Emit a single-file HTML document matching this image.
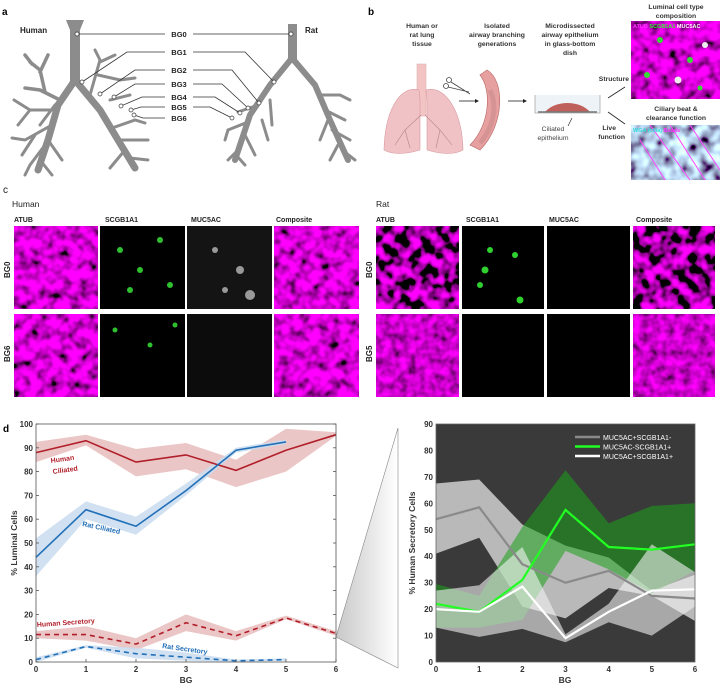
<!DOCTYPE html>
<html><head><meta charset="utf-8">
<style>
html,body{margin:0;padding:0;background:#fff;}
body{width:720px;height:686px;position:relative;overflow:hidden;font-family:"Liberation Sans",Arial,sans-serif;}
svg text{font-family:"Liberation Sans",Arial,sans-serif;}
</style></head>
<body>
<svg id="fig" width="720" height="686" viewBox="0 0 720 686" xmlns="http://www.w3.org/2000/svg">
<defs>
  <filter id="magTex" x="0" y="0" width="100%" height="100%">
    <feTurbulence type="fractalNoise" baseFrequency="0.09" numOctaves="2" seed="3"/>
    <feColorMatrix type="matrix" values="0 0 0 3.5 -1.4  0 0 0 0 0  0 0 0 3.5 -1.4  0 0 0 0 1"/>
  </filter>
  <filter id="magTex2" x="0" y="0" width="100%" height="100%">
    <feTurbulence type="fractalNoise" baseFrequency="0.12" numOctaves="2" seed="8"/>
    <feColorMatrix type="matrix" values="0 0 0 1.6 -0.2  0 0 0 0 0  0 0 0 1.6 -0.2  0 0 0 0 1"/>
  </filter>
  <filter id="magTex3" x="0" y="0" width="100%" height="100%">
    <feTurbulence type="fractalNoise" baseFrequency="0.1" numOctaves="2" seed="12"/>
    <feColorMatrix type="matrix" values="0 0 0 2.4 -0.5  0 0 0 0 0  0 0 0 2.4 -0.5  0 0 0 0 1"/>
  </filter>
  <filter id="cyanTex" x="0" y="0" width="100%" height="100%">
    <feTurbulence type="fractalNoise" baseFrequency="0.08" numOctaves="2" seed="5"/>
    <feColorMatrix type="matrix" values="0 0 0 1.5 -0.3  0 0 0 2.4 -0.6  0 0 0 2.6 -0.5  0 0 0 0 1"/>
  </filter>
  <linearGradient id="wedge" x1="0" x2="1" y1="0" y2="0">
    <stop offset="0" stop-color="#c8c8c8"/><stop offset="1" stop-color="#ffffff"/>
  </linearGradient>
</defs>

<!-- Panel a -->
<g>
<text x="2" y="15" font-size="10" font-weight="bold">a</text>
<text x="20" y="33" font-size="8" font-weight="bold" fill="#222">Human</text>
<text x="305" y="33" font-size="8" font-weight="bold" fill="#222">Rat</text>
<g stroke="#8c8c8c" fill="none" stroke-linecap="round">
  <polygon points="66,20 84,20 80,30 80,82 70,82 70,30" fill="#8c8c8c" stroke="none"/>
  <path d="M75,80 L58,105 L48,140 L38,170" stroke-width="7"/>
  <path d="M75,80 L100,110 L118,140 L135,168" stroke-width="7"/>
  <path d="M60,100 L40,90 L25,88 M45,92 L40,70 L30,62 M40,72 L48,55 M32,64 L25,55" stroke-width="3.5"/>
  <path d="M55,110 L30,110 L14,100 M30,110 L18,125 M52,125 L25,140 L12,138 M35,135 L22,155" stroke-width="3"/>
  <path d="M45,145 L30,165 L25,175 M40,160 L52,175 M48,140 L62,160" stroke-width="3"/>
  <path d="M90,95 L100,60 L95,50 M100,62 L115,55 M98,75 L120,80 L135,78 M110,100 L130,95" stroke-width="3"/>
  <path d="M112,128 L135,120 L145,123 M120,140 L148,140 M125,150 L110,168 M130,158 L148,160" stroke-width="3"/>
  <path d="M40,125 L55,105" stroke-width="3"/>
</g>
<g stroke="#8c8c8c" fill="none" stroke-linecap="round">
  <polygon points="288,24 297,24 297,60 288,60" fill="#8c8c8c" stroke="none"/>
  <path d="M292,58 L270,85 L250,115 L235,160" stroke-width="6"/>
  <path d="M292,58 L315,85 L330,120 L348,160" stroke-width="6"/>
  <path d="M258,105 L238,112 M248,122 L228,130 L225,140 M245,135 L255,155 M240,148 L228,160 M236,155 L245,165" stroke-width="3"/>
  <path d="M270,100 L272,125 M262,120 L268,140" stroke-width="3"/>
  <path d="M320,95 L340,95 L350,100 M325,110 L345,120 M328,120 L320,140 M332,130 L350,140 M338,145 L330,160 M342,150 L355,160" stroke-width="3"/>
</g>
<g stroke="#333" stroke-width="0.8" fill="none">
  <path d="M77,34 L165,34 M193,34 L291,34"/>
  <path d="M82,82 L127,52 L165,52 M193,52 L245,52 L274,82"/>
  <path d="M100,94 L135,70 L165,70 M193,70 L232,70 L259,103"/>
  <path d="M114,97 L135,84 L165,84 M193,84 L222,84 L248,108"/>
  <path d="M121,106 L142,97 L165,97 M193,97 L215,97 L240,113"/>
  <path d="M131,110 L141,107 L165,107 M193,107 L210,107 L232,118"/>
  <path d="M134,115 L143,118 L165,118"/>
</g>
<g fill="#fff" stroke="#333" stroke-width="0.7">
  <circle cx="77" cy="34" r="2"/><circle cx="291" cy="34" r="2"/>
  <circle cx="82" cy="82" r="2"/><circle cx="274" cy="82" r="2"/>
  <circle cx="100" cy="94" r="2"/><circle cx="259" cy="103" r="2"/>
  <circle cx="114" cy="97" r="2"/><circle cx="248" cy="108" r="2"/>
  <circle cx="121" cy="106" r="2"/><circle cx="240" cy="113" r="2"/>
  <circle cx="131" cy="110" r="2"/><circle cx="232" cy="118" r="2"/>
  <circle cx="134" cy="115" r="2"/>
</g>
<g font-size="7.5" font-weight="bold" fill="#222" text-anchor="middle">
  <text x="179" y="37">BG0</text><text x="179" y="55">BG1</text><text x="179" y="73">BG2</text>
  <text x="179" y="87">BG3</text><text x="179" y="100">BG4</text><text x="179" y="110">BG5</text><text x="179" y="121">BG6</text>
</g>
</g>

<!-- Panel b -->
<g>
<text x="368" y="15" font-size="10" font-weight="bold">b</text>
<g font-size="6.8" font-weight="bold" fill="#333" text-anchor="middle">
  <text x="422" y="28"><tspan x="422">Human or</tspan><tspan x="422" dy="9">rat lung</tspan><tspan x="422" dy="9">tissue</tspan></text>
  <text x="497" y="28"><tspan x="497">Isolated</tspan><tspan x="497" dy="9">airway branching</tspan><tspan x="497" dy="9">generations</tspan></text>
  <text x="570" y="28"><tspan x="570">Microdissected</tspan><tspan x="570" dy="9">airway epithelium</tspan><tspan x="570" dy="9">in glass-bottom</tspan><tspan x="570" dy="9">dish</tspan></text>
  <text x="676" y="9"><tspan x="676">Luminal cell type</tspan><tspan x="676" dy="9">composition</tspan></text>
  <text x="676" y="111"><tspan x="676">Ciliary beat &amp;</tspan><tspan x="676" dy="9">clearance function</tspan></text>
  <text x="629" y="81" text-anchor="end">Structure</text>
  <text x="625" y="130" text-anchor="end"><tspan x="616">Live</tspan><tspan x="625" dy="9">function</tspan></text>
</g>
<text font-size="6.8" fill="#444" text-anchor="middle" x="553" y="131"><tspan x="553">Ciliated</tspan><tspan x="553" dy="9">epithelium</tspan></text>
<g>
  <rect x="417" y="64" width="9" height="52" fill="#f2c4c4" stroke="#e0a8a8" stroke-width="0.5"/>
  <path d="M419,90 C400,85 385,110 384,150 C395,156 410,153 420,150 L420,100 Z" fill="#f0c2c6" stroke="#d89aa0" stroke-width="0.6"/>
  <path d="M426,90 C445,85 462,110 463,150 C452,156 437,153 427,150 L427,100 Z" fill="#f0c2c6" stroke="#d89aa0" stroke-width="0.6"/>
  <path d="M421,115 L405,130 L395,145 M425,115 L440,130 L452,145 M405,130 L410,148 M440,130 L436,148" stroke="#b5848a" stroke-width="0.6" fill="none"/>
</g>
<g stroke="#444" stroke-width="0.8" fill="none">
  <circle cx="449" cy="80" r="2.5"/><circle cx="446" cy="86" r="2.5"/><path d="M451,82 L470,94 M448,87 L469,92"/>
</g>
<path d="M459,101 L475,101" stroke="#222" stroke-width="0.8"/>
<polygon points="475,99 479,101 475,103" fill="#222"/>
<g>
  <path d="M487,70 C505,80 505,125 480,150 L470,145 C490,125 492,90 480,75 Z" fill="#e7a0a0" stroke="#c07070" stroke-width="0.7"/>
  <path d="M490,90 C497,105 495,125 480,143" stroke="#c98a8a" stroke-width="5" fill="none" opacity="0.6"/>
</g>
<path d="M508,101 L523,101" stroke="#222" stroke-width="0.8"/>
<polygon points="523,99 527,101 523,103" fill="#222"/>
<g>
  <path d="M535,95 L535,113 L600,113 L600,95" fill="#eef3f8" stroke="#aaa" stroke-width="0.8"/>
  <path d="M545,112 C555,100 580,100 590,112 Z" fill="#c0605a"/>
  <path d="M538,112 L597,112" stroke="#777" stroke-width="1.5"/>
  <path d="M572,118 L568,126" stroke="#222" stroke-width="0.6"/>
</g>
<path d="M608,98 L625,87" stroke="#222" stroke-width="0.8"/>
<path d="M608,112 L625,124" stroke="#222" stroke-width="0.8"/>
<g>
  <rect x="631" y="21" width="89" height="78" fill="#000"/>
  <rect x="631" y="21" width="89" height="78" filter="url(#magTex3)"/>
  <circle cx="660" cy="40" r="3" fill="#33dd33"/><circle cx="690" cy="60" r="3" fill="#33dd33"/><circle cx="647" cy="75" r="3" fill="#33dd33"/>
  <circle cx="705" cy="45" r="3" fill="#eee"/><circle cx="678" cy="80" r="3.5" fill="#eee"/><circle cx="700" cy="88" r="2.5" fill="#33dd33"/>
  <text x="633" y="28" font-size="5.5" font-weight="bold" fill="#ff33ff">ATUB <tspan fill="#33ee33">SCGB1A1</tspan> <tspan fill="#fff">MUC5AC</tspan></text>
</g>
<g>
  <rect x="631" y="125" width="89" height="55" fill="#000"/>
  <rect x="631" y="125" width="89" height="55" filter="url(#cyanTex)"/>
  <path d="M650,125 L690,180 M670,125 L705,180 M690,125 L720,170 M640,140 L665,180" stroke="#ff44ff" stroke-width="1" fill="none"/>
  <text x="633" y="132" font-size="5.5" font-weight="bold" fill="#33dddd">WGA (cilia) <tspan fill="#ff33ff">Beads</tspan></text>
</g>
</g>

<!-- Panel c -->
<g>
<text x="3" y="193" font-size="10" fill="#222">c</text>
<text x="12" y="207" font-size="8.5" fill="#222">Human</text>
<text x="376" y="207" font-size="8.5" fill="#222">Rat</text>
<g font-size="7" font-weight="bold" fill="#222">
  <text x="14" y="222">ATUB</text><text x="105" y="222">SCGB1A1</text><text x="191" y="222">MUC5AC</text><text x="276" y="222">Composite</text>
  <text x="376" y="222">ATUB</text><text x="466" y="222">SCGB1A1</text><text x="549" y="222">MUC5AC</text><text x="636" y="222">Composite</text>
</g>
<g font-size="8" font-weight="bold" fill="#222">
  <text transform="translate(10,278) rotate(-90)">BG0</text>
  <text transform="translate(10,362) rotate(-90)">BG6</text>
  <text transform="translate(372,278) rotate(-90)">BG0</text>
  <text transform="translate(372,362) rotate(-90)">BG5</text>
</g>
<g>
  <rect x="14" y="226" width="84" height="83" fill="#000"/><rect x="14" y="226" width="84" height="83" filter="url(#magTex3)"/>
  <rect x="100" y="226" width="85" height="83" fill="#000"/>
  <rect x="187" y="226" width="85" height="83" fill="#141414"/>
  <rect x="274" y="226" width="85" height="83" fill="#000"/><rect x="274" y="226" width="85" height="83" filter="url(#magTex3)"/>
  <rect x="14" y="314" width="84" height="83" fill="#000"/><rect x="14" y="314" width="84" height="83" filter="url(#magTex3)"/>
  <rect x="100" y="314" width="85" height="83" fill="#000"/>
  <rect x="187" y="314" width="85" height="83" fill="#0c0c0c"/>
  <rect x="274" y="314" width="85" height="83" fill="#000"/><rect x="274" y="314" width="85" height="83" filter="url(#magTex3)"/>
  <g fill="#2fbf2f"><circle cx="120" cy="250" r="3"/><circle cx="140" cy="270" r="3"/><circle cx="160" cy="240" r="3"/><circle cx="130" cy="290" r="3"/><circle cx="170" cy="285" r="3"/><circle cx="115" cy="330" r="2.5"/><circle cx="150" cy="345" r="2.5"/><circle cx="175" cy="325" r="2.5"/></g>
  <g fill="#999"><circle cx="215" cy="250" r="3"/><circle cx="240" cy="270" r="4"/><circle cx="250" cy="295" r="5"/><circle cx="225" cy="290" r="3"/></g>
</g>
<g>
  <rect x="376" y="226" width="83" height="83" fill="#000"/><rect x="376" y="226" width="83" height="83" filter="url(#magTex)"/>
  <rect x="462" y="226" width="82" height="83" fill="#000"/>
  <rect x="547" y="226" width="83" height="83" fill="#000"/>
  <rect x="633" y="226" width="82" height="83" fill="#000"/><rect x="633" y="226" width="82" height="83" filter="url(#magTex)"/>
  <rect x="376" y="314" width="83" height="83" fill="#000"/><rect x="376" y="314" width="83" height="83" filter="url(#magTex2)"/>
  <rect x="462" y="314" width="82" height="83" fill="#000"/>
  <rect x="547" y="314" width="83" height="83" fill="#000"/>
  <rect x="633" y="314" width="82" height="83" fill="#000"/><rect x="633" y="314" width="82" height="83" filter="url(#magTex2)"/>
  <g fill="#2fd02f"><circle cx="490" cy="250" r="3"/><circle cx="485" cy="270" r="3.5"/><circle cx="515" cy="255" r="3"/><circle cx="480" cy="285" r="3"/><circle cx="520" cy="300" r="3.5"/></g>
</g>
</g>

<!-- Panel d -->
<g>
<text x="3" y="432" font-size="10" font-weight="bold">d</text>
<polygon points="336,637 398,428 398,668" fill="url(#wedge)" stroke="#888" stroke-width="0.6"/>
<g id="leftChart"></g>
<g id="rightChart"></g>
</g>
</svg>

<script>
// Left chart data
const bgLeft = [0,1,2,3,4,5,6];
const humanCiliated = [88,93,84,87,80.5,89,95.5];
const humanCiliatedLo = [84,91,78,81,73.5,80,95];
const humanCiliatedHi = [92.5,95.5,89.5,92,85,98,96.5];
const ratCiliated = [44,64,57,72,89,92.5];
const ratCiliatedLo = [36,60,53.5,70,88,91.5];
const ratCiliatedHi = [52,67.5,61,75,90,93.5];
const humanSecretory = [11.5,11.5,7.5,16.5,11,18.5,12];
const humanSecretoryLo = [10,9,5,13,9,18,11];
const humanSecretoryHi = [13,15,10,20,13,19.5,13];
const ratSecretory = [1,6.5,3.5,2,0.5,1];
const ratSecretoryLo = [0,6,1.5,0.5,0,0.5];
const ratSecretoryHi = [2,7,6,4,1,1.5];
const leftYTicks = [0,10,20,30,40,50,60,70,80,90,100];
// Right chart data
const bgRight = [0,1,2,3,4,5,6];
const grayMean = [54,58.5,37,30,34.5,25,24];
const grayLo = [41,47,21,16.5,28,25,15.5];
const grayHi = [67.5,69,52,44,39.5,27,33];
const greenMean = [22,19,31,57.5,43.5,42.5,44.5];
const greenLo = [13,13,16,42,35,26,34.5];
const greenHi = [29.5,25,51,72.5,52.5,59,60];
const whiteMean = [20,19,28.5,9,19,27,27.5];
const whiteLo = [13,9.5,12.5,7.5,15,10,21];
const whiteHi = [27,29,43.5,10.5,22,44.5,34];
const rightYTicks = [0,10,20,30,40,50,60,70,80,90];
const legendLabels = ["MUC5AC+SCGB1A1-","MUC5AC-SCGB1A1+","MUC5AC+SCGB1A1+"];

const NS = "http://www.w3.org/2000/svg";
function mk(tag, attrs, parent){ const e=document.createElementNS(NS,tag); for(const k in attrs) e.setAttribute(k,attrs[k]); parent.appendChild(e); return e; }
function linePath(xs, ys, sx, sy){ return ys.map((v,i)=>(i?'L':'M')+sx(xs[i]).toFixed(1)+','+sy(v).toFixed(1)).join(' '); }
function bandPath(xs, lo, hi, sx, sy){
  let d = hi.map((v,i)=>(i?'L':'M')+sx(xs[i]).toFixed(1)+','+sy(v).toFixed(1)).join(' ');
  for(let i=lo.length-1;i>=0;i--) d+=' L'+sx(xs[i]).toFixed(1)+','+sy(lo[i]).toFixed(1);
  return d+' Z';
}

// Left chart
const L = document.getElementById('leftChart');
const lx0=36,lx1=336,ly0=662,ly1=424;
const lsx = v => lx0 + (v-0)/6*(lx1-lx0);
const lsy = v => ly0 - v/100*(ly0-ly1);
mk('rect',{x:lx0,y:ly1,width:lx1-lx0,height:ly0-ly1,fill:'#fff',stroke:'none'},L);
const series = [
  [humanCiliatedLo,humanCiliatedHi,humanCiliated,'#e8bcbc','#b11f2a','',bgLeft,'human-ciliated'],
  [ratCiliatedLo,ratCiliatedHi,ratCiliated,'#c9dcee','#2270b8','',bgLeft,'rat-ciliated'],
  [humanSecretoryLo,humanSecretoryHi,humanSecretory,'#e8bcbc','#b11f2a','5,4',bgLeft,'human-secretory'],
  [ratSecretoryLo,ratSecretoryHi,ratSecretory,'#c9dcee','#2270b8','5,4',bgLeft,'rat-secretory']
];
series.forEach(s=>{
  const b=mk('path',{d:bandPath(s[6],s[0],s[1],lsx,lsy),fill:s[3],opacity:0.85},L);
  
  
});
series.forEach(s=>{
  const p=mk('path',{d:linePath(s[6],s[2],lsx,lsy),fill:'none',stroke:s[4],'stroke-width':1.6,'stroke-dasharray':s[5]},L);
  
  
});
mk('rect',{x:lx0,y:ly1,width:lx1-lx0,height:ly0-ly1,fill:'none',stroke:'#555','stroke-width':0.8},L);
leftYTicks.forEach(t=>{
  mk('line',{x1:lx0,x2:lx0+3,y1:lsy(t),y2:lsy(t),stroke:'#555','stroke-width':0.8},L);
  mk('line',{x1:lx1,x2:lx1-3,y1:lsy(t),y2:lsy(t),stroke:'#555','stroke-width':0.8},L);
  const tx=mk('text',{x:lx0-3,y:lsy(t)+3,'font-size':8,'font-weight':'bold','text-anchor':'end',fill:'#333'},L); tx.textContent=t;
  
  
});
bgLeft.forEach(t=>{
  mk('line',{x1:lsx(t),x2:lsx(t),y1:ly0,y2:ly0-3,stroke:'#555','stroke-width':0.8},L);
  const tx=mk('text',{x:lsx(t),y:ly0+10,'font-size':8,'font-weight':'bold','text-anchor':'middle',fill:'#333'},L); tx.textContent=t;
  
  
});
function lbl(parent,x,y,txt,col,rot,name,size){ const t=mk('text',{x:x,y:y,'font-size':size||7,'font-weight':'bold',fill:col,transform:'rotate('+rot+' '+x+' '+y+')'},parent); t.textContent=txt;   return t; }
const xt=mk('text',{x:186,y:683,'font-size':8.5,'font-weight':'bold','text-anchor':'middle',fill:'#333'},L); xt.textContent='BG';


const yt=mk('text',{x:0,y:0,'font-size':8.5,'font-weight':'bold','text-anchor':'middle',fill:'#333',transform:'translate(17,543) rotate(-90)'},L); yt.textContent='% Luminal Cells';


lbl(L,51,463,'Human','#b11f2a',-8,'human-ciliated-label');
lbl(L,53,474,'Ciliated','#b11f2a',-8,'human-ciliated-label-2');
lbl(L,82,526,'Rat Ciliated','#2270b8',12,'rat-ciliated-label');
lbl(L,37,627,'Human Secretory','#b11f2a',-4,'human-secretory-label');
lbl(L,162,648,'Rat Secretory','#2270b8',8,'rat-secretory-label');

// Right chart
const R = document.getElementById('rightChart');
const rx0=436,rx1=695,ry0=662,ry1=424;
const rsx = v => rx0 + v/6*(rx1-rx0);
const rsy = v => ry0 - v/90*(ry0-ry1);
mk('rect',{x:rx0,y:ry1,width:rx1-rx0,height:ry0-ry1,fill:'#3a3a3a'},R);
const rser = [
  [grayLo,grayHi,grayMean,'#c8c8c8',0.9,'#8a8a8a','gray-series'],
  [greenLo,greenHi,greenMean,'#1aa31a',0.55,'#22ff22','green-series'],
  [whiteLo,whiteHi,whiteMean,'#f2f2f2',0.6,'#ffffff','white-series']
];
rser.forEach(s=>{
  const b=mk('path',{d:bandPath(bgRight,s[0],s[1],rsx,rsy),fill:s[3],'fill-opacity':s[4]},R);
  
  
});
rser.forEach(s=>{
  const p=mk('path',{d:linePath(bgRight,s[2],rsx,rsy),fill:'none',stroke:s[5],'stroke-width':2.2},R);
  
  
});
mk('rect',{x:rx0,y:ry1,width:rx1-rx0,height:ry0-ry1,fill:'none',stroke:'#666','stroke-width':0.8},R);
rightYTicks.forEach(t=>{
  const tx=mk('text',{x:rx0-3,y:rsy(t)+3,'font-size':8,'font-weight':'bold','text-anchor':'end',fill:'#333'},R); tx.textContent=t;
  
  
});
bgRight.forEach(t=>{
  const tx=mk('text',{x:rsx(t),y:ry0+10,'font-size':8,'font-weight':'bold','text-anchor':'middle',fill:'#333'},R); tx.textContent=t;
  
  
});
const rxt=mk('text',{x:565,y:683,'font-size':8.5,'font-weight':'bold','text-anchor':'middle',fill:'#333'},R); rxt.textContent='BG';


const ryt=mk('text',{x:0,y:0,'font-size':8.5,'font-weight':'bold','text-anchor':'middle',fill:'#333',transform:'translate(415,543) rotate(-90)'},R); ryt.textContent='% Human Secretory Cells';


const legCols=['#8a8a8a','#22ff22','#ffffff'];
legendLabels.forEach((t,i)=>{
  const y=437+i*9.5;
  const ln=mk('line',{x1:575,x2:600,y1:y,y2:y,stroke:legCols[i],'stroke-width':2.5},R);
  
  
  const tx=mk('text',{x:603,y:y+2.8,'font-size':7,fill:'#fff'},R); tx.textContent=t;
  
  
});
</script>
</body></html>
